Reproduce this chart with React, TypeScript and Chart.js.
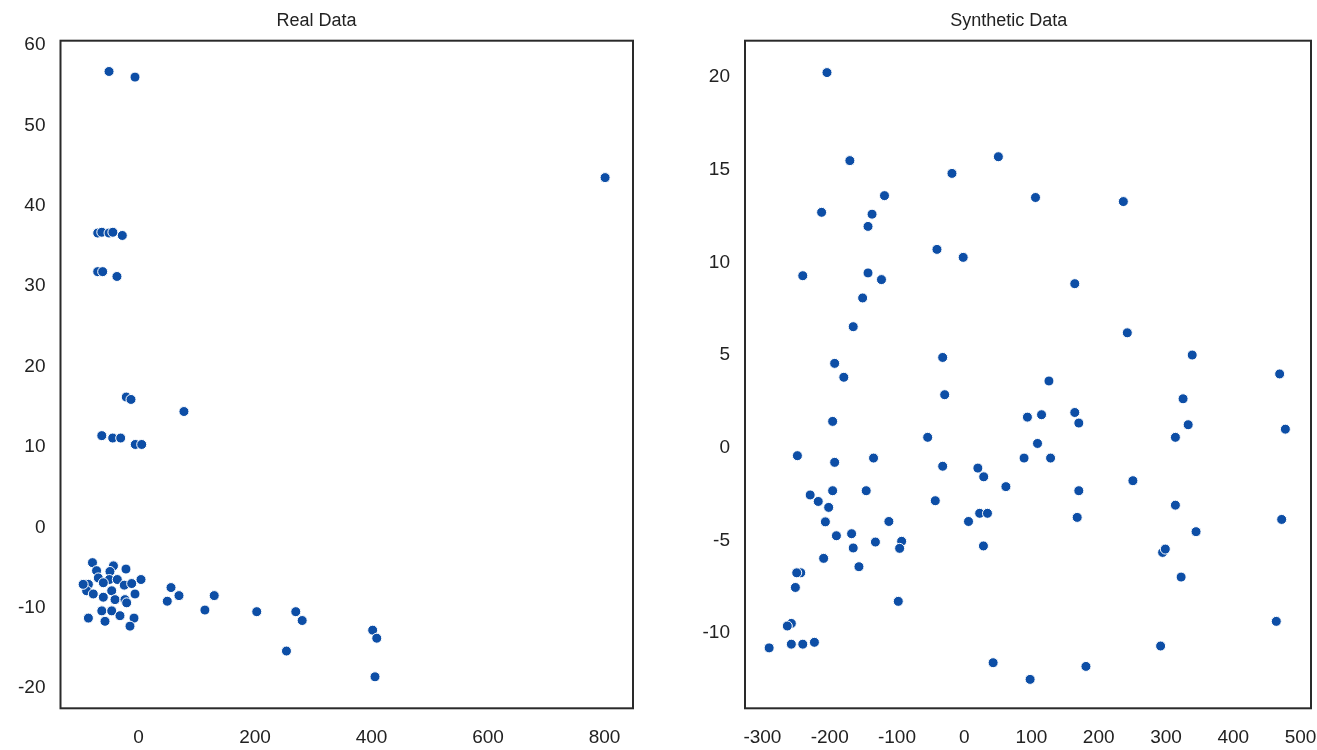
import React, { useEffect, useRef } from "react";
import { Chart, registerables } from "chart.js";

Chart.register(...registerables);

// ---- Real Data ----
const realX = [
  -50.6, -6, 801, -70, -63, -50.6, -44, -27.8, -70, -61.5, -37, -21, -12.9, 78, -63, -44.3, -30.6, -5.5, 5.5,
  -79, -43, -21.5, -49, -72, -69, -50, -36.4, 4.3, -86, -89, -60.4, -24.4, -11.7, -46, -77.6, -60.4, -40.3,
  -23.2, -6, -20.3, -63, -46, -31.8, -86, -57.5, -7.7, -14.6, -95, 55.8, 69.5, 49.4, 130, 114, 203, 270, 281,
  254, 402, 409, 406,
];
const realY = [
  56.7, 56.0, 43.5, 36.6, 36.7, 36.6, 36.7, 36.3, 31.8, 31.8, 31.2, 16.2, 15.9, 14.4, 11.4, 11.1, 11.1, 10.3, 10.3,
  -4.4, -4.8, -5.2, -5.5, -5.4, -6.3, -6.5, -6.5, -6.5, -7.1, -7.9, -6.9, -7.2, -7.0, -7.9, -8.3, -8.7, -9.0,
  -9.0, -8.3, -9.4, -10.4, -10.4, -11.0, -11.3, -11.7, -11.3, -12.3, -7.1, -7.5, -8.5, -9.2, -8.5, -10.3, -10.5, -10.5, -11.6,
  -15.4, -12.8, -13.8, -18.6,
];
const realXTicks = [0, 200, 400, 600, 800];
const realYTicks = [-20, -10, 0, 10, 20, 30, 40, 50, 60];

// ---- Synthetic Data ----
const synthX = [
  -204, -170, 50.8, -18.2, -118.5, -212, -137, -143, -40.5, -1.5, -240, -143, -123, -151, -165, -32, -192.6, -179,
  106, 236.6, 164.4, 242.5, 339, 469, 126, -29, 94, -195.6, -54.3, 89, -248, -192.6, -134.8, -32, 20.3, 29, 62,
  -229, -217, -195.6, -145.7, -43, -201.5, -206.4, -112, 6.4, 23, 34.6, -190, -167.4, -165, -132, -93, -96, 28.6,
  -209, -156.5, -243, -249, -251, -98, -257, -263, -290, -257, -240, -222.7, 43, 98, 325.4, 115, 164.4, 170.4, 333,
  477.5, 314, 109, 128.4, 250.8, 170.4, 314, 168, 472, 344.7, 295, 299, 322.5, 464, 292, 181,
];
const synthY = [
  20.24, 15.49, 15.7, 14.8, 13.6, 12.7, 12.6, 11.94, 10.7, 10.27, 9.28, 9.43, 9.07, 8.08, 6.53, 4.87, 4.55, 3.8,
  13.5, 13.28, 8.85, 6.2, 5.0, 3.98, 3.6, 2.86, 1.65, 1.42, 0.56, -0.56, -0.43, -0.79, -0.56, -1.0, -1.1, -1.57, -2.1,
  -2.55, -2.9, -2.32, -2.32, -2.86, -3.22, -4.0, -3.98, -3.98, -3.54, -3.54, -4.75, -4.64, -5.41, -5.09, -5.05, -5.43, -5.3,
  -5.97, -6.42, -6.75, -6.75, -7.54, -8.29, -9.48, -9.62, -10.8, -10.6, -10.6, -10.5, -11.6, -12.5, 2.64, 1.78, 1.9, 1.33, 1.24,
  1.0, 0.56, 0.23, -0.56, -1.78, -2.32, -3.1, -3.76, -3.87, -4.53, -5.65, -5.47, -6.98, -9.37, -10.7, -11.8,
];
const synthXTicks = [-300, -200, -100, 0, 100, 200, 300, 400, 500];
const synthYTicks = [-10, -5, 0, 5, 10, 15, 20];

const POINT_COLOR = "#0d4ea6";
const TEXT_COLOR = "#222222";
const FONT = "'Liberation Sans', Arial, sans-serif";

const framePlugin = {
  id: "frame",
  afterDraw(chart: any) {
    const { ctx, chartArea } = chart;
    ctx.save();
    ctx.strokeStyle = "#2a2a2a";
    ctx.lineWidth = 2;
    ctx.strokeRect(chartArea.left, chartArea.top, chartArea.right - chartArea.left, chartArea.bottom - chartArea.top);
    ctx.restore();
  },
};

type PanelProps = {
  title: string;
  xs: number[];
  ys: number[];
  xTicks: number[];
  yTicks: number[];
  xMin: number;
  xMax: number;
  yMin: number;
  yMax: number;
  canvasLeft: number;
  canvasWidth: number;
  yAxisWidth: number;
  rightPad: number;
};

function Panel(p: PanelProps) {
  const ref = useRef<HTMLCanvasElement | null>(null);
  useEffect(() => {
    if (!ref.current) return;
    const data = p.xs.map((x, i) => ({ x, y: p.ys[i] }));
    const chart = new Chart(ref.current, {
      type: "scatter",
      data: {
        datasets: [
          {
            data,
            backgroundColor: POINT_COLOR,
            borderColor: "#ffffff",
            borderWidth: 1,
            pointRadius: 5,
          },
        ],
      },
      options: {
        animation: false,
        responsive: false,
        devicePixelRatio: 1,
        layout: { padding: { left: 0, right: p.rightPad, top: 0, bottom: 0 } },
        plugins: {
          legend: { display: false },
          tooltip: { enabled: false },
          title: {
            display: true,
            text: p.title,
            color: TEXT_COLOR,
            font: { family: FONT, size: 18, weight: "normal", lineHeight: 1.2 },
            padding: { top: 10, bottom: 9.1 },
          },
        },
        scales: {
          x: {
            type: "linear",
            min: p.xMin,
            max: p.xMax,
            grid: { display: false, drawTicks: false },
            border: { display: false },
            ticks: { color: TEXT_COLOR, font: { family: FONT, size: 19 }, padding: 18, maxRotation: 0 },
            afterBuildTicks: (s: any) => {
              s.ticks = p.xTicks.map((v) => ({ value: v }));
            },
            afterFit: (s: any) => {
              s.height = 41.7;
              s.paddingLeft = 0;
              s.paddingRight = 0;
            },
          },
          y: {
            type: "linear",
            min: p.yMin,
            max: p.yMax,
            grid: { display: false, drawTicks: false },
            border: { display: false },
            ticks: { color: TEXT_COLOR, font: { family: FONT, size: 19 }, padding: 15 },
            afterBuildTicks: (s: any) => {
              s.ticks = p.yTicks.map((v) => ({ value: v }));
            },
            afterFit: (s: any) => {
              s.width = p.yAxisWidth;
              s.paddingTop = 0;
              s.paddingBottom = 0;
            },
          },
        },
      },
      plugins: [framePlugin],
    });
    return () => chart.destroy();
  }, []);
  return (
    <canvas
      ref={ref}
      width={p.canvasWidth}
      height={750}
      style={{ position: "absolute", left: p.canvasLeft, top: 0, width: p.canvasWidth, height: 750 }}
    />
  );
}

export default function App() {
  return (
    <div style={{ position: "fixed", left: 0, top: 0, width: 1317, height: 750, background: "#ffffff" }}>
      <Panel
        title="Real Data"
        xs={realX}
        ys={realY}
        xTicks={realXTicks}
        yTicks={realYTicks}
        xMin={-133.9}
        xMax={848.9}
        yMin={-22.52}
        yMax={60.53}
        canvasLeft={0}
        canvasWidth={662}
        yAxisWidth={60.5}
        rightPad={29}
      />
      <Panel
        title="Synthetic Data"
        xs={synthX}
        ys={synthY}
        xTicks={synthXTicks}
        yTicks={synthYTicks}
        xMin={-325.9}
        xMax={515.6}
        yMin={-14.06}
        yMax={21.96}
        canvasLeft={703}
        canvasWidth={614}
        yAxisWidth={42}
        rightPad={2.5}
      />
    </div>
  );
}
